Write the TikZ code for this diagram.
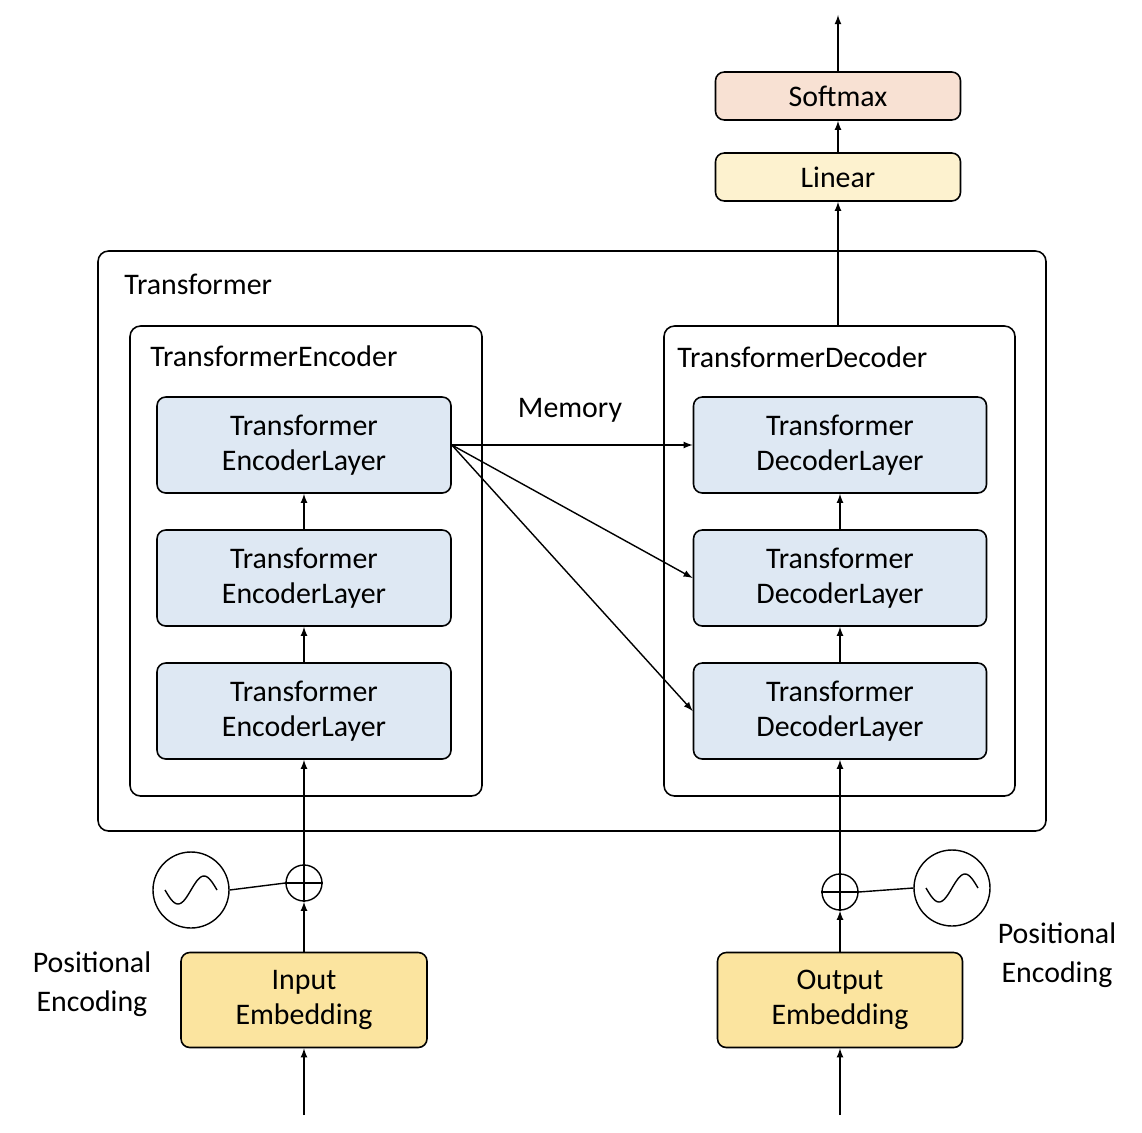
\documentclass[tikz,border=0pt]{standalone}
\usepackage{fontspec}
\setmainfont{Carlito}
\definecolor{peach}{HTML}{F8E1D3}
\definecolor{lyel}{HTML}{FDF2CF}
\definecolor{gold}{HTML}{FBE49F}
\definecolor{lblue}{HTML}{DEE8F3}
\begin{document}
\begin{tikzpicture}[x=0.02cm,y=-0.02cm,
  box/.style={draw,rounded corners=5pt,line width=0.9pt,align=center,font=\fontsize{17}{20}\selectfont,inner sep=0pt},
  cont/.style={draw,rounded corners=6pt,line width=0.9pt},
  lbl/.style={font=\fontsize{17}{20}\selectfont,anchor=west,inner sep=0pt},
  arr/.style={-latex,line width=0.8pt},
  sine/.style={draw,circle,minimum size=76*0.02cm,line width=0.8pt,inner sep=0pt},
  oplus/.style={draw,circle,minimum size=36*0.02cm,line width=0.8pt,inner sep=0pt}]
\useasboundingbox (0,0) rectangle (1142,1132);
% containers
\draw[cont] (98,251) rectangle (1046,831);
\node[lbl] (tlab) at (124,284) {Transformer};
\draw[cont] (130,326) rectangle (482,796);
\node[lbl] (elab) at (150,356) {TransformerEncoder};
\draw[cont] (664,326) rectangle (1015,796);
\coordinate (dtop) at (838,326);
\node[lbl] (dlab) at (677,357) {TransformerDecoder};
% top
\node[box,fill=peach,minimum width=245*0.02cm,minimum height=48*0.02cm] (soft) at (838,96) {Softmax};
\node[box,fill=lyel,minimum width=245*0.02cm,minimum height=48*0.02cm] (lin) at (838,177) {Linear};
\coordinate (out) at (838,15);
\draw[arr] (soft) -- (out);
\draw[arr] (lin) -- (soft);
\draw[arr] (dtop) -- (lin);
% layers
\foreach \n/\y in {1/445,2/578,3/711}{
  \node[box,fill=lblue,minimum width=294*0.02cm,minimum height=96*0.02cm] (e\n) at (304,\y) {Transformer\\EncoderLayer};
  \node[box,fill=lblue,minimum width=293*0.02cm,minimum height=96*0.02cm] (d\n) at (840,\y) {Transformer\\DecoderLayer};
}
\draw[arr] (e2) -- (e1); \draw[arr] (e3) -- (e2);
\draw[arr] (d2) -- (d1); \draw[arr] (d3) -- (d2);
\node[lbl,anchor=center] (mem) at (570,410) {Memory};
\draw[arr] (e1.east) -- (d1.west);
\draw[arr] (e1.east) -- (d2.west);
\draw[arr] (e1.east) -- (d3.west);
% embeddings
\node[box,fill=gold,minimum width=246*0.02cm,minimum height=95*0.02cm] (ie) at (304,1000) {Input\\Embedding};
\node[box,fill=gold,minimum width=245*0.02cm,minimum height=95*0.02cm] (oe) at (840,1000) {Output\\Embedding};
\coordinate (iin) at (304,1115);
\coordinate (oin) at (840,1115);
\draw[arr] (iin) -- (ie);
\draw[arr] (oin) -- (oe);
\node[oplus] (ip) at (304,883) {};
\node[oplus] (op) at (840,892) {};
\draw[line width=0.8pt] (ip.north) -- (ip.south) (ip.west) -- (ip.east);
\draw[line width=0.8pt] (op.north) -- (op.south) (op.west) -- (op.east);
\draw[arr] (ie) -- (ip);
\draw[arr] (ip) -- (e3);
\draw[arr] (oe) -- (op);
\draw[arr] (op) -- (d3);
\node[sine] (is) at (191,890) {};
\node[sine] (os) at (952,888) {};
\draw[line width=0.8pt] (is.east) -- (ip.west);
\draw[line width=0.8pt] (os.west) -- (op.east);
\foreach \s in {is,os}{
  \draw[line width=0.8pt,shift={(\s)},x=0.02cm,y=-0.02cm] plot[domain=-26:26,samples=40,smooth] (\x,{-14*sin(\x*360/52)});
}
\node[font=\fontsize{17}{22}\selectfont,align=center] (pl) at (92,984) {Positional\\Encoding};
\node[font=\fontsize{17}{22}\selectfont,align=center] (pr) at (1057,955) {Positional\\Encoding};
\end{tikzpicture}
\end{document}
